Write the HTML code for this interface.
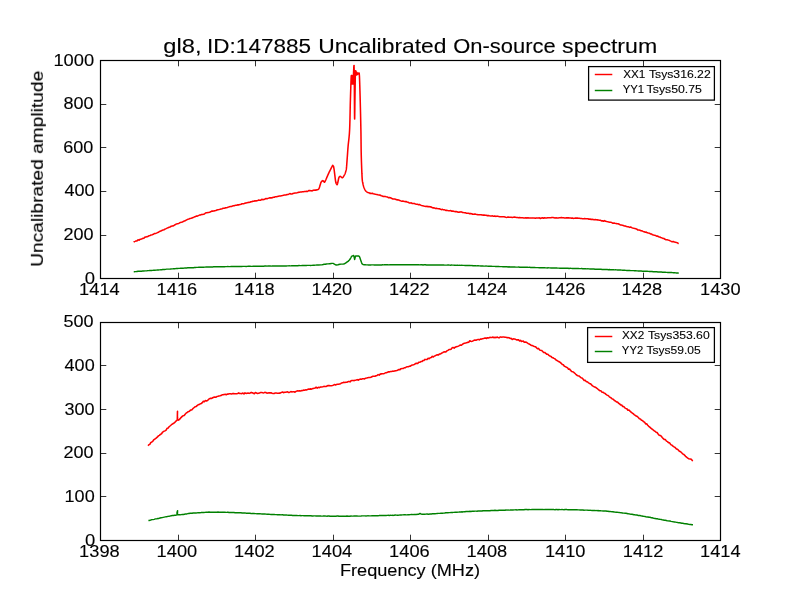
<!DOCTYPE html>
<html lang="en"><head><meta charset="utf-8">
<title>gl8, ID:147885 Uncalibrated On-source spectrum</title>
<style>
html,body{margin:0;padding:0;background:#fff;}
body{width:800px;height:600px;overflow:hidden;font-family:"Liberation Sans", sans-serif;}
svg{display:block;}
svg text{font-family:"Liberation Sans", sans-serif;fill:#000;stroke:#000;stroke-width:0.12px;stroke-linejoin:round;}
.sp{fill:none;stroke:#000;stroke-width:1.2;shape-rendering:auto;}
.tk line{stroke:#000;stroke-width:0.8;}
.cv{fill:none;stroke-width:1.45;stroke-linejoin:round;stroke-linecap:butt;}
.lg{fill:#fff;stroke:#000;stroke-width:1.25;}
</style></head><body>
<svg width="800" height="600" viewBox="0 0 800 600">
<rect x="0" y="0" width="800" height="600" fill="#ffffff"/>
<g class="cv">
<polyline stroke="#ff0000" stroke-width="1.55" points="133.75,242.29 134.35,241.65 135.09,241.37 135.97,240.92 136.96,240.87 138.03,239.87 139.17,240.15 140.34,239.23 141.54,238.94 142.73,238.36 143.89,238.21 145.00,237.13 146.00,237.04 147.01,236.63 148.04,236.50 149.07,235.69 150.12,235.45 151.17,234.90 152.23,234.65 153.29,234.33 154.35,233.60 155.40,233.57 156.45,233.10 157.50,232.59 158.55,232.22 159.63,231.47 160.71,231.10 161.81,230.47 162.90,230.11 163.98,229.77 165.06,229.07 166.11,228.65 167.14,228.14 168.13,227.67 169.09,227.28 170.00,227.00 171.22,226.26 172.28,226.04 173.23,225.87 174.14,225.30 175.08,224.71 176.12,224.14 177.32,223.66 178.75,223.50 179.57,222.87 180.45,222.38 181.39,222.15 182.37,222.08 183.40,221.31 184.46,220.96 185.54,220.46 186.64,219.90 187.75,219.31 188.85,219.01 189.95,218.60 191.03,218.32 192.08,217.95 193.10,217.58 194.07,217.09 195.00,216.86 196.17,216.14 197.30,216.11 198.39,215.60 199.44,215.11 200.47,214.92 201.48,214.50 202.48,214.41 203.47,214.18 204.46,214.00 205.46,213.06 206.47,212.75 207.50,212.61 208.54,212.42 209.58,212.24 210.62,211.84 211.67,211.12 212.71,211.13 213.75,211.04 214.79,210.65 215.83,210.46 216.88,210.00 217.92,209.72 218.96,209.51 220.00,209.27 221.04,208.96 222.08,208.68 223.12,208.27 224.17,208.19 225.21,207.89 226.25,207.81 227.29,207.57 228.33,207.13 229.38,206.78 230.42,206.48 231.46,206.42 232.50,206.11 233.55,205.79 234.61,205.62 235.68,205.26 236.76,205.25 237.83,204.81 238.91,204.87 239.97,204.49 241.02,204.29 242.05,203.76 243.06,203.76 244.05,203.65 245.00,203.13 246.08,203.00 247.08,202.83 248.03,202.35 248.94,202.43 249.84,202.31 250.76,201.79 251.71,201.79 252.72,201.26 253.81,201.25 255.00,200.71 255.86,201.02 256.77,200.71 257.72,200.43 258.71,200.10 259.72,200.27 260.76,200.19 261.81,199.29 262.88,199.64 263.94,199.50 265.00,199.06 266.05,198.57 267.08,198.74 268.09,198.35 269.06,198.08 270.00,197.78 271.13,197.87 272.23,197.68 273.30,197.20 274.35,197.19 275.39,196.67 276.41,196.80 277.42,196.45 278.43,196.20 279.43,196.00 280.45,195.97 281.47,195.74 282.50,195.50 283.54,195.22 284.58,195.01 285.62,194.91 286.67,194.64 287.71,194.53 288.75,194.16 289.79,193.58 290.83,194.02 291.88,194.04 292.92,193.54 293.96,193.26 295.00,193.08 296.05,192.90 297.11,192.75 298.18,192.36 299.26,192.30 300.33,192.04 301.41,192.09 302.47,191.82 303.52,191.80 304.55,191.52 305.56,191.57 306.55,191.28 307.50,191.49 308.65,190.59 309.82,190.64 311.00,190.75 312.16,190.88 313.28,190.23 314.34,190.14 315.31,189.96 316.18,190.12 316.92,189.73 317.50,189.70 318.00,189.50 318.60,189.10 318.89,188.69 319.14,188.17 319.40,187.50 319.54,187.08 319.69,186.59 319.84,186.06 319.99,185.52 320.15,184.99 320.30,184.50 320.48,183.93 320.65,183.37 320.83,182.83 321.02,182.33 321.25,181.90 321.73,181.30 322.28,180.84 322.75,180.60 323.60,181.20 323.98,181.87 324.40,182.25 324.66,182.08 324.96,181.61 325.50,180.50 325.67,180.14 325.86,179.72 326.06,179.25 326.29,178.74 326.52,178.20 326.77,177.62 327.02,177.03 327.28,176.43 327.54,175.83 327.80,175.24 328.05,174.66 328.29,174.11 328.53,173.58 328.75,173.10 329.02,172.52 329.30,171.94 329.58,171.37 329.85,170.82 330.12,170.29 330.38,169.77 330.63,169.28 330.87,168.81 331.10,168.37 331.31,167.97 331.50,167.60 331.93,166.75 332.25,166.10 332.51,165.66 332.75,165.40 333.50,166.25 333.58,166.58 333.66,166.94 333.74,167.34 333.82,167.79 333.91,168.30 333.99,168.86 334.09,169.50 334.19,170.21 334.30,171.00 334.35,171.40 334.41,171.84 334.47,172.31 334.54,172.82 334.60,173.36 334.67,173.91 334.74,174.49 334.81,175.07 334.88,175.67 334.95,176.26 335.02,176.86 335.09,177.44 335.16,178.01 335.23,178.57 335.30,179.10 335.36,179.60 335.43,180.08 335.49,180.51 335.55,180.90 335.60,181.25 335.79,182.28 335.96,182.90 336.11,183.26 336.25,183.52 336.40,183.80 337.10,184.75 337.27,184.46 337.43,183.96 337.61,183.29 337.80,182.50 337.91,182.03 338.03,181.48 338.15,180.87 338.28,180.24 338.40,179.62 338.53,179.03 338.64,178.52 338.75,178.10 339.08,177.21 339.40,176.80 340.25,176.25 340.87,176.71 341.50,177.30 342.01,177.68 342.50,177.75 343.02,177.21 343.60,176.30 343.87,175.87 344.16,175.39 344.45,174.87 344.74,174.32 345.00,173.75 345.20,173.25 345.38,172.71 345.56,172.15 345.72,171.59 345.87,171.04 346.00,170.50 346.11,170.07 346.19,169.76 346.26,169.45 346.33,169.05 346.41,168.43 346.50,167.50 346.53,167.16 346.56,166.79 346.60,166.40 346.63,165.97 346.67,165.52 346.71,165.05 346.74,164.56 346.78,164.06 346.82,163.54 346.86,163.00 346.90,162.46 346.94,161.91 346.98,161.36 347.02,160.80 347.06,160.24 347.10,159.68 347.14,159.13 347.18,158.58 347.22,158.04 347.26,157.51 347.30,157.00 347.34,156.50 347.37,156.01 347.41,155.53 347.44,155.05 347.48,154.58 347.51,154.11 347.54,153.64 347.57,153.17 347.61,152.70 347.64,152.22 347.67,151.74 347.71,151.26 347.74,150.76 347.78,150.25 347.82,149.73 347.86,149.20 347.90,148.64 347.95,148.08 348.00,147.49 348.05,146.88 348.10,146.25 348.14,145.83 348.18,145.41 348.22,144.99 348.26,144.58 348.30,144.16 348.35,143.74 348.39,143.32 348.44,142.90 348.49,142.47 348.54,142.04 348.59,141.60 348.64,141.16 348.69,140.72 348.75,140.26 348.80,139.80 348.85,139.33 348.90,138.85 348.95,138.36 349.01,137.86 349.06,137.34 349.11,136.82 349.16,136.28 349.21,135.73 349.26,135.16 349.31,134.58 349.35,133.98 349.40,133.36 349.44,132.73 349.48,132.07 349.52,131.40 349.56,130.71 349.60,130.00 349.62,129.61 349.64,129.21 349.66,128.80 349.67,128.39 349.69,127.96 349.71,127.53 349.72,127.09 349.74,126.64 349.76,126.19 349.77,125.73 349.79,125.26 349.80,124.78 349.82,124.30 349.83,123.82 349.85,123.33 349.86,122.83 349.88,122.33 349.89,121.82 349.90,121.31 349.92,120.80 349.93,120.28 349.94,119.76 349.96,119.23 349.97,118.70 349.98,118.17 349.99,117.64 350.00,117.10 350.02,116.56 350.03,116.02 350.04,115.48 350.05,114.94 350.06,114.40 350.08,113.86 350.09,113.31 350.10,112.77 350.11,112.23 350.12,111.69 350.13,111.14 350.14,110.60 350.16,110.06 350.17,109.53 350.18,108.99 350.19,108.46 350.20,107.93 350.21,107.40 350.22,106.88 350.24,106.35 350.25,105.84 350.26,105.32 350.27,104.81 350.28,104.31 350.30,103.81 350.31,103.31 350.32,102.82 350.33,102.33 350.35,101.85 350.36,101.38 350.37,100.91 350.39,100.45 350.40,100.00 350.42,99.43 350.43,98.86 350.45,98.28 350.47,97.69 350.49,97.10 350.51,96.50 350.53,95.90 350.54,95.29 350.56,94.69 350.58,94.08 350.60,93.46 350.62,92.85 350.64,92.24 350.66,91.63 350.68,91.02 350.70,90.41 350.72,89.80 350.74,89.20 350.76,88.60 350.78,88.00 350.80,87.42 350.81,86.83 350.83,86.26 350.85,85.69 350.87,85.13 350.89,84.57 350.91,84.03 350.93,83.50 350.95,82.98 350.97,82.47 350.98,81.97 351.00,81.48 351.02,81.01 351.04,80.55 351.05,80.11 351.07,79.68 351.09,79.27 351.10,78.87 351.12,78.50 351.14,78.14 351.15,77.80 351.17,77.48 351.18,77.18 351.20,76.90 351.21,76.64 351.22,76.40 351.24,76.19 351.25,76.00 351.29,75.58 351.33,75.50 351.36,75.71 351.39,76.16 351.41,76.81 351.44,77.59 351.46,78.47 351.48,79.39 351.50,80.30 351.52,81.15 351.54,81.90 351.56,82.49 351.58,82.87 351.60,83.00 351.62,82.89 351.64,82.60 351.66,82.17 351.68,81.62 351.70,80.98 351.72,80.28 351.74,79.53 351.76,78.78 351.78,78.04 351.79,77.35 351.81,76.73 351.83,76.21 351.86,75.81 351.88,75.57 351.90,75.50 351.92,75.61 351.94,75.87 351.96,76.25 351.99,76.75 352.01,77.33 352.03,77.98 352.06,78.68 352.08,79.41 352.11,80.15 352.13,80.88 352.15,81.57 352.18,82.22 352.20,82.80 352.23,83.28 352.25,83.66 352.28,83.90 352.30,84.00 352.32,83.92 352.35,83.68 352.38,83.29 352.40,82.79 352.43,82.18 352.45,81.51 352.48,80.78 352.50,80.03 352.53,79.28 352.55,78.55 352.58,77.87 352.60,77.26 352.62,76.75 352.65,76.35 352.68,76.09 352.70,76.00 352.72,76.09 352.75,76.36 352.77,76.77 352.80,77.30 352.82,77.92 352.85,78.62 352.88,79.36 352.90,80.12 352.93,80.88 352.95,81.62 352.97,82.29 353.00,82.89 353.02,83.39 353.05,83.75 353.07,83.97 353.10,84.00 353.12,83.90 353.14,83.72 353.16,83.46 353.18,83.13 353.20,82.73 353.22,82.27 353.24,81.77 353.26,81.22 353.27,80.64 353.29,80.02 353.31,79.39 353.33,78.75 353.35,78.10 353.37,77.45 353.39,76.81 353.41,76.19 353.43,75.59 353.46,75.02 353.48,74.49 353.50,74.00 353.53,73.39 353.56,72.72 353.59,72.00 353.62,71.25 353.66,70.49 353.69,69.73 353.72,68.99 353.76,68.28 353.79,67.61 353.82,67.01 353.86,66.49 353.89,66.06 353.92,65.74 353.95,65.55 353.97,65.50 354.00,65.60 354.01,65.72 354.03,65.87 354.04,66.04 354.05,66.25 354.07,66.48 354.08,66.74 354.09,67.03 354.10,67.34 354.11,67.69 354.12,68.06 354.13,68.47 354.14,68.90 354.15,69.36 354.16,69.85 354.17,70.38 354.18,70.93 354.19,71.51 354.20,72.13 354.21,72.77 354.22,73.45 354.23,74.15 354.24,74.89 354.25,75.66 354.26,76.47 354.27,77.30 354.28,78.17 354.29,79.07 354.30,80.00 354.30,80.35 354.31,80.73 354.31,81.12 354.32,81.52 354.32,81.95 354.32,82.39 354.33,82.84 354.33,83.31 354.33,83.80 354.34,84.29 354.34,84.80 354.35,85.33 354.35,85.86 354.35,86.41 354.36,86.97 354.36,87.53 354.36,88.11 354.37,88.70 354.37,89.29 354.38,89.89 354.38,90.50 354.38,91.12 354.39,91.74 354.39,92.37 354.39,93.00 354.40,93.64 354.40,94.28 354.40,94.93 354.41,95.58 354.41,96.23 354.42,96.88 354.42,97.53 354.42,98.18 354.43,98.84 354.43,99.49 354.43,100.14 354.44,100.79 354.44,101.44 354.45,102.08 354.45,102.72 354.45,103.36 354.46,103.99 354.46,104.62 354.46,105.24 354.47,105.85 354.47,106.46 354.48,107.06 354.48,107.65 354.48,108.24 354.49,108.81 354.49,109.38 354.50,109.93 354.50,110.47 354.50,111.00 354.51,111.52 354.51,112.03 354.51,112.52 354.52,113.01 354.52,113.47 354.53,113.92 354.53,114.36 354.54,114.78 354.54,115.18 354.54,115.56 354.55,115.93 354.55,116.28 354.56,116.61 354.56,116.92 354.56,117.21 354.57,117.48 354.57,117.73 354.58,117.96 354.58,118.16 354.59,118.35 354.59,118.51 354.60,118.64 354.60,118.75 354.61,118.88 354.62,118.96 354.62,118.98 354.63,118.95 354.64,118.87 354.65,118.74 354.65,118.57 354.66,118.35 354.67,118.09 354.68,117.79 354.69,117.45 354.70,117.07 354.70,116.66 354.71,116.21 354.72,115.73 354.73,115.23 354.74,114.69 354.75,114.13 354.75,113.55 354.76,112.94 354.77,112.31 354.78,111.67 354.79,111.01 354.80,110.33 354.81,109.64 354.82,108.94 354.82,108.23 354.83,107.52 354.84,106.80 354.85,106.07 354.86,105.34 354.87,104.62 354.88,103.89 354.89,103.17 354.90,102.46 354.90,101.75 354.91,101.05 354.92,100.36 354.93,99.69 354.94,99.03 354.95,98.39 354.96,97.77 354.97,97.17 354.97,96.59 354.98,96.03 354.99,95.50 355.00,95.00 355.01,94.48 355.02,93.94 355.03,93.40 355.04,92.86 355.04,92.31 355.05,91.75 355.06,91.19 355.07,90.62 355.08,90.05 355.09,89.48 355.10,88.90 355.11,88.33 355.12,87.75 355.12,87.17 355.13,86.59 355.14,86.02 355.15,85.45 355.16,84.87 355.17,84.31 355.18,83.74 355.18,83.18 355.19,82.62 355.20,82.08 355.21,81.53 355.22,81.00 355.23,80.47 355.24,79.95 355.25,79.44 355.26,78.93 355.27,78.44 355.27,77.96 355.28,77.49 355.29,77.04 355.30,76.59 355.31,76.16 355.32,75.74 355.33,75.34 355.34,74.96 355.35,74.59 355.36,74.23 355.37,73.90 355.38,73.58 355.39,73.28 355.40,73.00 355.56,70.71 355.73,70.68 355.90,71.25 355.97,71.55 356.04,72.10 356.11,72.80 356.19,73.54 356.26,74.22 356.33,74.74 356.40,75.00 356.50,74.83 356.60,74.23 356.69,73.48 356.79,72.81 356.90,72.50 357.04,72.77 357.19,73.44 357.35,74.14 357.50,74.50 357.70,74.18 357.90,73.46 358.10,73.00 358.75,73.75 358.96,73.42 359.17,73.19 359.40,75.50 359.41,75.78 359.43,76.07 359.45,76.38 359.46,76.70 359.48,77.04 359.49,77.39 359.51,77.76 359.52,78.14 359.54,78.53 359.56,78.94 359.57,79.36 359.59,79.79 359.60,80.23 359.62,80.68 359.64,81.14 359.65,81.62 359.67,82.10 359.69,82.59 359.70,83.09 359.72,83.60 359.74,84.12 359.75,84.64 359.77,85.18 359.79,85.71 359.81,86.26 359.82,86.81 359.84,87.36 359.86,87.92 359.87,88.49 359.89,89.05 359.91,89.62 359.92,90.20 359.94,90.78 359.96,91.36 359.97,91.94 359.99,92.52 360.01,93.10 360.02,93.68 360.04,94.27 360.06,94.85 360.07,95.43 360.09,96.01 360.11,96.59 360.12,97.17 360.14,97.74 360.15,98.31 360.17,98.88 360.18,99.44 360.20,100.00 360.21,100.46 360.23,100.92 360.24,101.38 360.25,101.85 360.26,102.32 360.28,102.80 360.29,103.28 360.30,103.76 360.31,104.25 360.33,104.74 360.34,105.23 360.35,105.73 360.36,106.23 360.38,106.73 360.39,107.23 360.40,107.74 360.42,108.24 360.43,108.75 360.44,109.26 360.45,109.78 360.47,110.29 360.48,110.81 360.49,111.33 360.50,111.84 360.52,112.36 360.53,112.88 360.54,113.40 360.55,113.93 360.57,114.45 360.58,114.97 360.59,115.49 360.60,116.01 360.61,116.53 360.63,117.06 360.64,117.58 360.65,118.10 360.66,118.62 360.67,119.13 360.68,119.65 360.70,120.17 360.71,120.68 360.72,121.19 360.73,121.71 360.74,122.22 360.75,122.72 360.76,123.23 360.77,123.73 360.78,124.23 360.79,124.73 360.80,125.23 360.81,125.72 360.82,126.21 360.83,126.69 360.84,127.18 360.85,127.66 360.86,128.13 360.87,128.61 360.88,129.07 360.89,129.54 360.90,130.00 360.91,130.55 360.92,131.09 360.93,131.64 360.94,132.18 360.95,132.71 360.96,133.25 360.96,133.78 360.97,134.31 360.98,134.84 360.98,135.36 360.99,135.88 361.00,136.40 361.00,136.92 361.01,137.43 361.01,137.95 361.02,138.46 361.03,138.97 361.03,139.47 361.04,139.98 361.04,140.48 361.05,140.98 361.05,141.48 361.06,141.98 361.06,142.47 361.07,142.97 361.07,143.46 361.08,143.95 361.08,144.44 361.09,144.93 361.09,145.42 361.10,145.91 361.10,146.39 361.11,146.88 361.11,147.36 361.12,147.84 361.13,148.32 361.13,148.80 361.14,149.28 361.15,149.76 361.15,150.24 361.16,150.72 361.17,151.19 361.18,151.67 361.19,152.15 361.20,152.62 361.21,153.10 361.22,153.57 361.23,154.05 361.24,154.52 361.25,155.00 361.26,155.53 361.28,156.07 361.29,156.61 361.31,157.15 361.32,157.70 361.34,158.25 361.36,158.81 361.37,159.36 361.39,159.92 361.41,160.48 361.42,161.05 361.44,161.61 361.46,162.17 361.48,162.73 361.50,163.30 361.52,163.86 361.54,164.42 361.56,164.97 361.58,165.53 361.60,166.08 361.62,166.62 361.64,167.17 361.66,167.71 361.68,168.24 361.70,168.77 361.72,169.29 361.74,169.81 361.76,170.32 361.78,170.82 361.80,171.31 361.82,171.80 361.84,172.28 361.86,172.75 361.88,173.21 361.90,173.66 361.93,174.10 361.95,174.52 361.97,174.94 361.99,175.35 362.01,175.74 362.02,176.12 362.04,176.48 362.06,176.84 362.08,177.18 362.10,177.50 362.17,178.59 362.24,179.48 362.30,180.22 362.37,180.82 362.43,181.30 362.50,181.69 362.57,182.02 362.63,182.30 362.70,182.57 362.76,182.84 362.83,183.14 362.90,183.50 363.03,184.22 363.16,184.84 363.30,185.39 363.44,185.90 363.58,186.39 363.75,186.90 363.97,187.53 364.22,188.15 364.48,188.75 364.74,189.30 365.00,189.80 365.40,190.48 365.80,191.03 366.25,191.50 366.79,191.90 367.38,192.22 368.00,192.50 368.53,192.69 369.11,192.86 369.63,193.00 370.00,193.42 370.60,193.31 371.36,193.41 372.26,193.25 373.26,193.75 374.35,193.98 375.50,194.27 376.69,194.44 377.88,194.81 379.05,195.00 380.19,195.11 381.25,195.76 382.27,196.01 383.28,196.42 384.28,196.39 385.29,196.57 386.29,196.82 387.30,196.92 388.32,197.65 389.34,197.56 390.38,197.83 391.43,198.28 392.50,198.87 393.50,198.90 394.51,198.94 395.54,199.26 396.57,199.77 397.62,199.89 398.67,200.05 399.73,200.42 400.79,200.86 401.85,201.34 402.90,201.02 403.95,201.39 405.00,201.61 406.04,201.56 407.08,202.07 408.12,202.29 409.17,202.91 410.21,202.91 411.25,202.87 412.29,203.51 413.33,203.55 414.38,203.53 415.42,203.95 416.46,204.17 417.50,204.34 418.54,204.72 419.58,204.53 420.62,205.09 421.67,205.53 422.71,205.71 423.75,205.97 424.79,206.17 425.83,206.44 426.88,206.18 427.92,206.74 428.96,206.46 430.00,206.89 431.04,206.87 432.08,207.61 433.12,207.88 434.17,207.82 435.21,208.39 436.25,208.16 437.29,208.52 438.33,208.73 439.38,208.72 440.42,209.19 441.46,209.66 442.50,209.32 443.54,209.85 444.58,209.84 445.62,210.36 446.67,210.30 447.71,210.50 448.75,210.66 449.79,210.75 450.83,210.62 451.88,211.28 452.92,210.94 453.96,211.39 455.00,211.61 456.04,211.50 457.08,211.84 458.12,212.17 459.17,212.11 460.21,212.10 461.25,211.88 462.29,212.38 463.33,212.59 464.38,212.74 465.42,212.80 466.46,213.18 467.50,213.15 468.54,213.36 469.58,213.64 470.62,213.49 471.67,213.72 472.71,214.29 473.75,214.19 474.79,213.92 475.83,214.26 476.88,214.50 477.92,214.74 478.96,214.66 480.00,214.65 481.04,214.73 482.08,215.09 483.12,215.14 484.17,215.10 485.21,215.27 486.25,215.33 487.29,215.64 488.33,215.49 489.38,215.80 490.42,215.96 491.46,215.99 492.50,215.85 493.54,216.34 494.58,216.06 495.62,216.36 496.67,216.23 497.71,216.15 498.75,216.59 499.79,216.68 500.83,216.70 501.88,216.84 502.92,216.75 503.96,216.80 505.00,216.97 506.04,217.40 507.08,217.26 508.12,217.07 509.17,217.30 510.21,217.16 511.25,217.20 512.29,217.47 513.33,217.26 514.38,217.09 515.42,217.26 516.46,217.48 517.50,217.52 518.54,217.77 519.58,217.46 520.62,217.77 521.67,217.76 522.71,217.71 523.75,217.93 524.79,217.92 525.83,217.72 526.88,218.10 527.92,217.73 528.96,217.99 530.00,218.00 531.04,218.09 532.08,217.90 533.12,218.03 534.17,218.02 535.21,218.23 536.25,217.90 537.29,218.06 538.33,217.99 539.38,217.80 540.42,218.50 541.46,218.00 542.50,217.73 543.54,218.24 544.58,217.77 545.62,218.01 546.67,218.07 547.71,217.77 548.75,217.78 549.79,217.73 550.83,217.78 551.88,217.49 552.92,217.54 553.96,217.73 555.00,217.94 556.05,217.87 557.11,218.07 558.18,217.90 559.26,217.71 560.33,217.80 561.41,217.48 562.47,217.70 563.52,217.72 564.55,217.98 565.56,218.07 566.55,217.88 567.50,217.89 568.59,217.74 569.62,218.01 570.61,218.09 571.56,218.14 572.50,217.92 573.44,218.44 574.39,218.31 575.38,218.11 576.41,218.06 577.50,218.14 578.45,218.27 579.44,218.28 580.45,218.42 581.48,218.53 582.53,218.69 583.59,218.71 584.67,218.55 585.74,218.71 586.82,218.65 587.89,218.70 588.95,219.24 590.00,218.92 591.04,219.47 592.08,219.17 593.12,219.40 594.17,219.68 595.21,219.63 596.25,219.84 597.29,219.88 598.33,219.99 599.38,220.21 600.42,220.29 601.46,220.87 602.50,220.72 603.54,221.24 604.58,220.63 605.62,221.31 606.67,221.60 607.71,221.65 608.75,222.10 609.79,222.23 610.83,222.28 611.88,222.63 612.92,223.29 613.96,223.06 615.00,223.30 616.04,223.41 617.08,223.77 618.12,223.77 619.17,224.22 620.21,224.97 621.25,224.99 622.29,225.19 623.33,225.55 624.38,225.97 625.42,226.03 626.46,226.58 627.50,226.69 628.54,226.82 629.58,227.40 630.62,226.97 631.67,227.59 632.71,228.05 633.75,228.15 634.79,228.60 635.83,228.83 636.88,229.15 637.92,230.08 638.96,230.03 640.00,230.24 641.04,230.82 642.08,230.88 643.12,231.43 644.17,231.68 645.21,232.27 646.25,232.07 647.29,232.82 648.33,233.07 649.38,233.20 650.42,233.96 651.46,233.98 652.50,234.79 653.54,234.96 654.57,235.36 655.60,235.62 656.62,236.14 657.65,236.02 658.67,236.75 659.70,237.00 660.74,237.54 661.79,237.86 662.84,238.36 663.91,238.47 665.00,239.33 666.05,239.78 667.18,239.70 668.37,240.13 669.59,240.58 670.82,241.16 672.05,241.68 673.25,241.51 674.41,241.99 675.49,242.26 676.49,242.57 677.38,242.76 678.14,243.37 678.75,243.29"/>
<polyline stroke="#008000" points="133.75,271.75 134.35,271.73 135.09,271.60 135.97,271.62 136.96,271.48 138.03,271.34 139.17,271.31 140.34,271.28 141.54,271.18 142.73,271.01 143.89,271.01 145.00,270.90 145.97,270.85 146.91,270.78 147.83,270.64 148.75,270.65 149.68,270.53 150.62,270.57 151.61,270.46 152.64,270.36 153.73,270.23 154.90,270.19 156.15,270.11 157.50,269.94 158.31,270.05 159.15,269.89 160.01,269.89 160.89,269.68 161.79,269.74 162.72,269.52 163.66,269.48 164.62,269.46 165.60,269.36 166.60,269.15 167.62,269.14 168.66,269.15 169.71,269.13 170.79,268.99 171.88,268.85 172.98,268.82 174.11,268.65 175.24,268.65 176.40,268.48 177.57,268.47 178.75,268.39 179.64,268.39 180.53,268.28 181.41,268.30 182.30,268.17 183.19,268.17 184.08,268.11 184.97,267.93 185.87,267.97 186.78,267.91 187.70,267.82 188.62,267.81 189.56,267.68 190.52,267.73 191.48,267.67 192.47,267.61 193.47,267.67 194.50,267.51 195.54,267.45 196.61,267.36 197.70,267.36 198.82,267.25 199.96,267.32 201.14,267.18 202.34,267.17 203.58,267.22 204.85,267.14 206.16,267.05 207.50,267.07 208.32,266.97 209.16,266.99 210.02,266.93 210.90,266.87 211.79,266.91 212.71,266.92 213.63,266.83 214.58,266.78 215.53,266.79 216.50,266.67 217.49,266.74 218.48,266.70 219.49,266.84 220.51,266.69 221.53,266.63 222.57,266.73 223.61,266.66 224.66,266.66 225.72,266.65 226.79,266.63 227.86,266.59 228.93,266.64 230.01,266.60 231.09,266.54 232.17,266.54 233.25,266.48 234.34,266.53 235.42,266.54 236.51,266.52 237.59,266.51 238.67,266.46 239.75,266.53 240.82,266.42 241.89,266.42 242.95,266.39 244.00,266.40 245.05,266.37 246.10,266.47 247.13,266.38 248.15,266.26 249.17,266.31 250.17,266.25 251.16,266.35 252.14,266.36 253.11,266.25 254.06,266.29 255.00,266.24 256.09,266.26 257.19,266.31 258.28,266.19 259.38,266.13 260.47,266.21 261.56,266.19 262.65,266.18 263.74,266.19 264.83,266.09 265.91,266.01 266.99,266.15 268.06,266.07 269.13,266.02 270.20,266.01 271.26,266.11 272.32,266.05 273.37,266.05 274.42,266.06 275.45,265.98 276.48,265.94 277.51,265.95 278.52,265.92 279.53,265.95 280.53,265.91 281.52,265.95 282.50,265.91 283.47,265.92 284.43,265.94 285.38,265.97 286.32,265.96 287.25,265.88 288.16,265.87 289.06,265.82 289.95,265.89 290.83,265.90 291.69,265.78 292.54,265.83 293.38,265.76 294.20,265.76 295.00,265.76 296.37,265.70 297.72,265.74 299.04,265.59 300.33,265.60 301.59,265.59 302.82,265.52 304.02,265.55 305.19,265.43 306.33,265.47 307.44,265.36 308.52,265.39 309.57,265.39 310.58,265.44 311.55,265.35 312.50,265.34 313.41,265.23 314.28,265.30 315.12,265.15 315.92,265.11 316.68,265.03 317.41,265.07 318.10,265.08 318.75,264.97 320.99,264.85 322.21,264.73 322.82,264.62 323.28,264.49 324.00,264.33 325.23,264.30 326.43,263.96 327.60,263.85 328.75,263.77 329.93,263.66 331.12,263.47 332.21,263.38 333.10,263.40 334.80,264.29 336.25,265.04 338.00,264.68 338.83,264.44 340.00,264.23 340.99,264.15 342.19,264.11 343.41,264.01 344.40,263.73 345.54,263.18 346.50,262.43 348.01,261.37 349.40,259.98 350.50,258.52 351.00,257.54 351.50,256.47 352.60,255.89 353.75,255.57 354.20,257.45 354.60,259.44 355.10,257.55 355.60,255.91 357.00,255.95 358.75,255.99 359.50,256.81 360.00,258.11 360.47,259.41 361.00,260.98 361.44,262.33 361.90,263.60 363.00,264.51 364.40,264.75 365.18,264.74 366.13,264.89 367.24,264.85 368.53,264.97 370.00,265.00 370.78,264.99 371.56,264.89 372.36,264.87 373.20,264.89 374.10,264.92 375.07,264.88 376.13,264.98 377.29,264.95 378.58,264.91 380.00,264.88 380.79,264.93 381.64,264.96 382.55,264.78 383.52,264.88 384.53,264.84 385.58,264.81 386.66,264.82 387.76,264.83 388.88,264.90 390.00,264.80 391.12,264.76 392.24,264.71 393.34,264.80 394.42,264.71 395.47,264.73 396.48,264.76 397.45,264.72 398.36,264.69 399.21,264.70 400.00,264.74 401.30,264.69 402.28,264.70 403.03,264.71 403.64,264.68 404.22,264.71 404.86,264.69 405.66,264.77 406.72,264.75 408.13,264.65 410.00,264.74 410.69,264.81 411.43,264.75 412.21,264.74 413.04,264.82 413.90,264.72 414.81,264.78 415.75,264.82 416.72,264.84 417.72,264.75 418.75,264.74 419.80,264.89 420.87,264.78 421.96,264.82 423.07,264.95 424.18,264.82 425.31,264.74 426.45,264.99 427.59,264.91 428.73,264.89 429.87,265.02 431.01,264.88 432.14,264.97 433.26,264.91 434.38,264.90 435.47,264.96 436.55,264.98 437.61,265.01 438.64,265.02 439.65,264.94 440.63,264.97 441.58,265.09 442.50,265.03 443.63,265.02 444.72,265.10 445.77,265.11 446.79,265.12 447.78,265.04 448.75,265.07 449.69,265.14 450.62,265.18 451.53,265.07 452.44,265.12 453.34,265.15 454.24,265.23 455.14,265.14 456.04,265.35 456.96,265.24 457.89,265.29 458.84,265.39 459.80,265.33 460.80,265.36 461.82,265.34 462.88,265.40 463.97,265.35 465.10,265.43 466.28,265.47 467.50,265.45 468.35,265.57 469.22,265.57 470.11,265.48 471.02,265.64 471.94,265.59 472.87,265.69 473.82,265.65 474.78,265.71 475.75,265.78 476.74,265.89 477.73,265.75 478.74,265.84 479.75,265.88 480.78,265.98 481.81,265.95 482.85,266.02 483.89,266.11 484.94,266.11 486.00,266.09 487.06,266.13 488.12,266.17 489.19,266.23 490.25,266.22 491.32,266.30 492.39,266.37 493.46,266.35 494.53,266.39 495.60,266.46 496.66,266.52 497.72,266.45 498.78,266.50 499.83,266.65 500.88,266.62 501.92,266.60 502.96,266.69 503.98,266.80 505.00,266.72 506.01,266.73 507.01,266.80 508.01,266.92 509.00,266.84 509.99,266.92 510.97,266.98 511.95,266.98 512.92,266.96 513.90,267.04 514.87,267.04 515.84,267.10 516.81,267.11 517.78,267.12 518.74,267.05 519.71,267.20 520.69,267.19 521.66,267.11 522.64,267.24 523.62,267.28 524.60,267.29 525.59,267.20 526.58,267.31 527.58,267.32 528.59,267.38 529.60,267.31 530.62,267.46 531.65,267.50 532.68,267.53 533.73,267.53 534.78,267.55 535.85,267.63 536.93,267.63 538.02,267.62 539.12,267.68 540.23,267.73 541.36,267.78 542.50,267.77 543.41,267.73 544.32,267.77 545.25,267.83 546.18,267.85 547.12,267.91 548.06,267.79 549.01,267.87 549.97,267.87 550.93,268.00 551.90,268.01 552.88,268.01 553.86,268.05 554.85,268.00 555.84,268.08 556.83,268.08 557.83,268.10 558.84,268.11 559.85,268.18 560.86,268.21 561.88,268.11 562.90,268.18 563.93,268.23 564.95,268.27 565.98,268.19 567.02,268.24 568.05,268.30 569.09,268.42 570.13,268.32 571.17,268.36 572.22,268.41 573.26,268.43 574.31,268.47 575.36,268.48 576.40,268.50 577.45,268.55 578.50,268.58 579.55,268.61 580.60,268.64 581.65,268.59 582.70,268.69 583.74,268.71 584.79,268.78 585.84,268.80 586.88,268.88 587.92,268.79 588.96,268.86 590.00,268.91 590.98,268.90 591.96,268.95 592.95,268.98 593.95,269.01 594.95,269.19 595.96,269.11 596.97,269.22 597.98,269.14 599.00,269.24 600.02,269.23 601.05,269.32 602.07,269.42 603.10,269.48 604.14,269.46 605.17,269.49 606.21,269.51 607.24,269.57 608.28,269.66 609.32,269.55 610.36,269.66 611.40,269.67 612.44,269.82 613.48,269.75 614.51,269.90 615.55,269.84 616.58,269.89 617.61,270.06 618.64,270.08 619.67,270.03 620.69,270.04 621.71,270.12 622.73,270.24 623.74,270.26 624.75,270.26 625.75,270.38 626.75,270.46 627.74,270.38 628.73,270.48 629.71,270.49 630.68,270.63 631.65,270.62 632.61,270.63 633.56,270.62 634.51,270.78 635.44,270.78 636.37,270.84 637.29,270.87 638.21,270.94 639.11,270.87 640.00,270.96 641.17,271.07 642.36,271.20 643.55,271.18 644.75,271.22 645.95,271.25 647.16,271.31 648.36,271.39 649.57,271.42 650.78,271.53 651.99,271.59 653.19,271.75 654.39,271.70 655.58,271.82 656.76,271.81 657.94,271.94 659.10,272.07 660.25,271.99 661.38,272.02 662.50,272.19 663.60,272.19 664.68,272.24 665.75,272.33 666.79,272.38 667.80,272.48 668.80,272.49 669.76,272.49 670.70,272.52 671.61,272.54 672.49,272.62 673.33,272.77 674.14,272.69 674.92,272.80 675.66,272.90 676.36,272.91 677.02,272.99 677.64,272.98 678.22,273.05 678.75,272.97"/>
<polyline stroke="#ff0000" stroke-width="1.55" points="148.25,445.88 148.66,444.88 150.00,444.13 150.73,442.66 151.58,442.03 152.55,441.64 153.63,439.99 154.83,439.09 156.12,438.23 157.50,436.90 158.39,435.88 159.37,435.33 160.42,434.38 161.53,433.72 162.67,432.05 163.83,431.34 164.98,430.90 166.11,430.14 167.20,428.20 168.22,427.97 169.16,426.67 170.00,425.99 171.46,424.74 172.74,423.80 173.85,423.30 174.79,422.43 175.59,421.57 176.25,420.89 177.20,420.20 177.27,419.32 177.32,418.37 177.36,416.49 177.38,415.15 177.41,413.67 177.43,412.45 177.46,411.67 177.50,411.31 177.52,411.95 177.49,412.37 177.46,414.10 177.43,414.98 177.44,416.42 177.50,417.96 177.65,419.10 177.90,419.68 178.57,420.11 179.44,419.37 180.70,417.92 182.50,416.15 183.27,415.65 184.13,415.45 185.07,414.37 186.08,413.13 187.15,412.49 188.26,411.68 189.39,411.34 190.54,410.10 191.69,409.97 192.83,408.68 193.93,407.75 195.00,406.87 196.04,406.62 197.08,405.60 198.12,404.79 199.17,404.58 200.21,403.80 201.25,403.56 202.29,402.60 203.33,401.21 204.38,401.76 205.42,400.43 206.46,400.95 207.50,400.55 208.54,399.40 209.58,398.72 210.62,398.22 211.67,398.47 212.71,397.75 213.75,397.24 214.79,396.98 215.83,397.33 216.88,396.48 217.92,396.29 218.96,396.00 220.00,395.81 221.04,395.57 222.08,394.82 223.12,394.78 224.17,394.44 225.21,394.30 226.25,394.72 227.29,394.10 228.33,394.12 229.38,393.83 230.42,393.76 231.46,394.08 232.50,393.62 233.54,393.52 234.58,393.74 235.62,393.68 236.67,393.72 237.71,393.49 238.75,392.88 239.79,393.57 240.83,393.50 241.88,393.63 242.92,393.05 243.96,394.04 245.00,392.88 246.04,393.44 247.08,393.20 248.12,393.02 249.17,393.38 250.21,393.03 251.25,392.39 252.29,392.72 253.33,393.19 254.38,393.71 255.42,392.58 256.46,393.01 257.50,393.44 258.54,393.17 259.58,392.88 260.62,392.57 261.67,392.47 262.71,392.78 263.75,392.91 264.79,392.35 265.83,392.52 266.88,393.12 267.92,392.90 268.96,392.79 270.00,392.88 271.04,392.73 272.08,393.23 273.12,393.41 274.17,393.51 275.21,393.07 276.25,393.04 277.29,393.21 278.33,393.24 279.38,393.11 280.42,392.98 281.46,392.37 282.50,392.02 283.54,392.70 284.58,392.34 285.62,392.29 286.67,391.97 287.71,391.77 288.75,392.51 289.79,392.15 290.83,391.60 291.88,391.94 292.92,391.82 293.96,391.77 295.00,392.17 296.07,391.36 297.17,390.84 298.30,391.08 299.44,390.71 300.59,390.90 301.72,390.62 302.82,390.48 303.89,390.04 304.90,390.16 305.85,389.73 306.72,389.89 307.50,389.51 308.86,389.01 309.68,389.30 310.32,388.75 311.14,389.20 312.50,388.63 313.28,388.51 314.15,388.25 315.10,388.05 316.11,387.19 317.18,388.11 318.28,387.33 319.41,387.68 320.56,387.03 321.70,387.00 322.83,386.79 323.93,386.37 325.00,386.45 326.04,386.47 327.08,386.02 328.12,385.59 329.17,385.62 330.21,385.69 331.25,385.78 332.29,385.50 333.33,385.15 334.38,384.57 335.42,384.94 336.46,384.47 337.50,384.18 338.54,384.30 339.58,383.97 340.62,383.69 341.67,382.93 342.71,382.83 343.75,382.24 344.79,382.54 345.83,382.23 346.88,382.24 347.92,381.78 348.96,381.37 350.00,381.88 351.04,380.73 352.08,380.44 353.12,380.47 354.17,380.63 355.21,380.19 356.25,379.99 357.29,379.62 358.33,380.22 359.38,379.41 360.42,379.09 361.46,379.17 362.50,378.76 363.54,378.71 364.58,378.95 365.62,378.18 366.67,378.06 367.71,377.72 368.75,377.52 369.79,377.57 370.83,377.22 371.88,376.70 372.92,376.26 373.96,376.23 375.00,376.25 376.04,375.72 377.08,375.40 378.12,374.61 379.17,375.16 380.21,374.12 381.25,373.88 382.29,373.85 383.33,373.68 384.38,373.38 385.42,372.85 386.46,372.69 387.50,372.32 388.54,371.68 389.58,371.88 390.62,371.49 391.67,371.56 392.71,371.14 393.75,371.21 394.79,370.87 395.83,370.67 396.88,370.49 397.92,370.05 398.96,369.51 400.00,369.66 401.04,368.65 402.08,368.60 403.12,368.53 404.17,367.85 405.21,367.80 406.25,366.99 407.29,366.71 408.33,366.67 409.38,366.35 410.42,366.12 411.46,365.36 412.50,365.09 413.54,364.80 414.58,364.35 415.62,363.41 416.67,363.22 417.71,363.40 418.75,362.17 419.79,362.31 420.83,361.57 421.88,361.57 422.92,360.61 423.96,360.43 425.00,359.39 426.04,359.57 427.08,359.50 428.12,358.32 429.17,358.72 430.21,357.74 431.25,357.53 432.29,356.30 433.33,357.05 434.38,356.04 435.42,355.72 436.46,355.06 437.50,354.70 438.54,354.89 439.58,353.92 440.62,353.87 441.67,353.06 442.71,352.72 443.75,351.97 444.79,351.76 445.83,351.92 446.88,350.85 447.92,350.33 448.96,349.56 450.00,349.55 451.04,349.21 452.08,347.85 453.12,347.51 454.17,348.12 455.21,347.19 456.25,346.68 457.29,346.39 458.33,346.14 459.38,345.65 460.42,344.95 461.46,345.25 462.50,344.25 463.54,343.61 464.58,343.34 465.62,343.10 466.67,342.66 467.71,342.37 468.75,342.17 469.79,340.76 470.83,341.18 471.88,341.39 472.92,340.97 473.96,340.31 475.00,340.06 476.05,340.34 477.12,339.68 478.20,339.37 479.28,339.87 480.36,339.00 481.44,339.12 482.50,338.73 483.56,338.59 484.59,338.13 485.59,338.02 486.56,338.51 487.50,337.66 488.70,337.93 489.84,337.37 490.94,337.56 492.01,337.54 493.05,336.99 494.06,337.77 495.05,337.33 496.03,337.71 497.00,337.02 498.04,337.52 499.00,337.88 499.91,337.18 500.81,336.87 501.74,337.18 502.72,337.09 503.79,337.05 505.00,337.21 505.89,337.21 506.85,337.67 507.87,337.62 508.93,337.69 510.02,338.43 511.12,338.38 512.24,339.49 513.35,338.89 514.45,339.01 515.51,339.33 516.53,339.86 517.50,339.79 518.58,339.89 519.58,340.99 520.53,340.34 521.44,341.38 522.34,341.20 523.26,341.09 524.21,342.21 525.22,342.00 526.31,342.18 527.50,343.02 528.36,343.78 529.27,344.04 530.22,344.57 531.21,345.36 532.22,345.43 533.26,346.05 534.31,346.45 535.38,346.68 536.44,347.67 537.50,348.81 538.55,348.41 539.58,349.94 540.59,350.20 541.56,350.42 542.50,351.27 543.63,352.46 544.73,352.42 545.80,353.49 546.85,354.25 547.89,354.29 548.91,355.41 549.92,356.04 550.93,356.39 551.93,357.41 552.95,357.77 553.97,358.38 555.00,358.88 556.04,360.07 557.08,360.53 558.12,361.21 559.17,361.76 560.21,362.42 561.25,363.33 562.29,364.52 563.33,364.79 564.38,366.21 565.42,366.64 566.46,367.31 567.50,367.64 568.54,369.33 569.58,369.06 570.62,370.40 571.67,371.51 572.71,371.70 573.75,372.31 574.79,373.27 575.83,374.30 576.88,375.19 577.92,375.71 578.96,375.95 580.00,376.80 581.04,377.79 582.08,378.07 583.12,379.09 584.17,380.55 585.21,380.27 586.25,381.65 587.29,381.72 588.33,382.60 589.38,383.38 590.42,383.65 591.46,384.77 592.50,385.89 593.54,386.41 594.58,387.09 595.62,387.33 596.67,388.21 597.71,388.99 598.75,389.81 599.79,390.69 600.83,390.67 601.88,392.17 602.92,392.26 603.96,392.97 605.00,393.39 606.04,394.44 607.08,395.11 608.12,395.53 609.17,396.54 610.21,397.40 611.25,397.97 612.29,399.07 613.33,399.26 614.38,400.57 615.42,400.98 616.46,401.88 617.50,401.95 618.54,403.26 619.58,403.92 620.62,404.93 621.67,405.01 622.71,406.48 623.75,406.46 624.79,407.89 625.83,408.39 626.88,408.72 627.92,410.34 628.96,410.08 630.00,411.15 631.04,412.04 632.08,412.92 633.12,413.63 634.17,414.61 635.21,415.32 636.25,416.01 637.29,416.55 638.33,417.55 639.38,418.76 640.42,418.98 641.46,420.20 642.50,420.39 643.54,421.63 644.58,422.20 645.62,423.91 646.67,423.84 647.71,425.17 648.75,426.32 649.79,427.15 650.83,428.07 651.88,429.02 652.92,429.71 653.96,430.68 655.00,431.28 656.04,432.16 657.08,432.52 658.12,433.98 659.17,435.19 660.21,435.48 661.25,436.24 662.29,437.50 663.33,438.69 664.38,439.59 665.42,439.64 666.46,441.09 667.50,441.60 668.56,442.73 669.64,442.83 670.74,444.64 671.85,445.11 672.96,446.15 674.06,446.88 675.15,447.45 676.20,448.73 677.23,449.21 678.21,449.90 679.13,451.02 680.00,451.47 681.35,452.37 682.57,453.86 683.67,454.32 684.69,455.34 685.65,456.35 686.58,457.13 687.50,457.86 688.82,458.80 690.11,458.98 691.29,459.26 692.28,460.42 693.00,460.67"/>
<polyline stroke="#008000" points="148.40,520.58 149.02,520.51 149.82,520.29 150.77,520.00 151.83,519.65 152.98,519.62 154.18,519.37 155.41,518.90 156.64,518.85 157.83,518.44 158.96,518.41 160.00,518.04 161.08,517.75 162.15,517.63 163.21,517.34 164.26,517.12 165.29,516.91 166.29,516.70 167.27,516.56 168.22,516.39 169.13,516.19 170.00,516.13 171.22,515.69 172.41,515.56 173.56,515.48 174.62,515.19 175.57,515.24 176.37,515.06 177.00,514.89 177.40,514.64 177.46,513.63 177.51,512.22 177.55,511.18 177.60,510.67 177.39,511.19 177.01,512.48 176.99,513.72 177.90,514.64 178.50,514.75 179.26,514.81 180.14,514.84 181.14,514.61 182.21,514.46 183.34,514.42 184.51,514.17 185.69,513.90 186.85,513.90 187.97,513.59 189.03,513.47 190.00,513.33 191.09,513.32 192.13,513.28 193.15,513.08 194.15,513.05 195.13,512.91 196.10,513.03 197.07,512.90 198.03,512.68 199.01,512.70 200.00,512.67 201.00,512.57 202.00,512.43 203.00,512.43 204.00,512.44 205.00,512.38 206.00,512.25 207.00,512.31 208.00,512.18 209.00,512.07 210.00,512.21 211.00,512.25 212.00,512.20 213.00,512.27 214.00,512.28 215.00,512.19 216.00,512.12 217.00,512.17 218.00,512.08 219.00,512.19 220.00,512.19 221.00,512.22 222.00,512.30 223.00,512.09 224.00,512.31 225.00,512.24 226.00,512.35 227.00,512.33 228.00,512.27 229.00,512.43 230.00,512.35 231.00,512.47 232.00,512.42 233.00,512.47 234.00,512.54 235.00,512.71 236.00,512.66 237.00,512.66 238.00,512.82 239.00,512.75 240.00,512.78 241.00,512.79 242.00,512.92 243.00,512.98 244.00,512.99 245.00,512.97 246.00,513.16 247.00,513.24 248.00,513.26 249.00,513.28 250.00,513.32 251.00,513.41 252.00,513.59 253.00,513.54 254.00,513.45 255.00,513.65 256.00,513.60 257.00,513.84 258.00,513.69 259.00,513.75 260.00,513.81 261.00,513.87 262.00,513.91 263.00,513.98 264.00,514.02 265.00,514.06 266.00,514.14 267.00,514.15 268.00,514.25 269.00,514.30 270.00,514.37 270.95,514.42 271.84,514.48 272.69,514.55 273.52,514.53 274.38,514.59 275.28,514.64 276.26,514.63 277.36,514.69 278.59,514.77 280.00,514.68 280.77,514.88 281.60,514.83 282.46,514.64 283.36,514.98 284.30,514.90 285.26,515.09 286.26,515.00 287.28,515.10 288.32,515.20 289.38,515.14 290.44,515.18 291.52,515.28 292.60,515.43 293.69,515.45 294.77,515.52 295.84,515.49 296.90,515.53 297.96,515.61 298.99,515.61 300.00,515.54 301.00,515.68 302.00,515.62 303.00,515.63 304.00,515.72 305.00,515.73 306.00,515.82 307.00,515.80 308.00,515.77 309.00,515.81 310.00,515.80 311.00,515.83 312.00,515.96 313.00,515.92 314.00,515.88 315.00,515.90 316.00,515.90 317.00,515.94 318.00,515.87 319.00,516.03 320.00,515.98 321.00,516.06 322.00,516.10 323.00,516.07 324.00,515.99 325.00,515.99 326.00,516.14 327.00,516.16 328.00,516.02 329.00,516.06 330.00,516.21 331.00,516.15 332.00,516.30 333.00,516.20 334.00,516.24 335.00,516.18 336.00,516.16 337.00,516.09 338.00,516.01 339.00,516.28 340.00,516.26 341.00,516.16 342.00,516.27 343.00,516.09 344.00,516.30 345.00,516.22 346.00,516.29 347.00,516.05 348.00,516.26 349.00,516.21 350.00,516.16 351.00,516.07 352.00,516.14 353.00,516.12 354.00,516.04 355.00,515.98 356.00,515.98 357.00,516.01 358.00,516.11 359.00,516.10 360.00,516.12 361.00,516.02 362.00,515.87 363.00,515.90 364.00,515.86 365.00,515.90 366.00,516.00 367.00,515.87 368.00,515.83 369.00,515.88 370.00,515.88 371.00,515.87 372.00,515.72 373.00,515.70 374.00,515.71 375.00,515.77 376.00,515.71 377.00,515.60 378.00,515.78 379.00,515.59 380.00,515.59 381.00,515.57 382.02,515.49 383.04,515.52 384.06,515.50 385.09,515.48 386.13,515.46 387.16,515.37 388.19,515.31 389.22,515.42 390.25,515.30 391.27,515.36 392.29,515.28 393.30,515.41 394.29,515.18 395.28,515.04 396.26,515.10 397.22,515.18 398.16,515.19 399.09,515.15 400.00,515.05 401.13,515.07 402.28,514.85 403.44,514.84 404.60,514.78 405.75,514.84 406.89,514.85 408.00,514.72 409.09,514.71 410.15,514.61 411.16,514.57 412.13,514.57 413.04,514.63 413.89,514.52 414.67,514.49 415.38,514.50 416.00,514.45 418.16,514.27 418.50,514.32 420.00,513.39 421.20,514.10 422.00,514.20 422.57,514.24 423.21,514.19 423.95,514.23 424.80,514.32 425.80,514.12 426.99,514.01 428.38,514.18 430.00,514.02 430.73,514.01 431.51,513.96 432.35,513.83 433.23,513.81 434.16,513.61 435.12,513.66 436.11,513.60 437.14,513.44 438.18,513.39 439.25,513.35 440.33,513.31 441.42,513.19 442.52,513.22 443.62,513.10 444.72,513.02 445.81,512.76 446.89,512.78 447.95,512.75 448.99,512.64 450.00,512.62 451.00,512.50 452.00,512.41 453.00,512.40 454.00,512.35 455.00,512.26 456.00,512.21 457.00,512.22 458.00,512.12 459.00,512.08 460.00,512.00 461.00,511.91 462.00,511.82 463.00,511.91 464.00,511.74 465.00,511.72 466.00,511.57 467.00,511.46 468.00,511.42 469.00,511.43 470.00,511.32 471.00,511.41 472.00,511.28 473.00,511.23 474.00,511.33 475.00,511.15 476.00,511.10 477.00,511.27 478.00,511.07 479.00,511.01 480.00,510.94 481.00,511.02 482.00,510.97 483.00,510.68 484.00,510.81 485.00,510.80 486.00,510.78 487.00,510.62 488.00,510.67 489.00,510.76 490.00,510.68 491.00,510.50 492.00,510.56 493.00,510.45 494.00,510.53 495.00,510.23 496.00,510.47 497.00,510.39 498.00,510.42 499.00,510.23 500.00,510.26 501.00,510.18 502.00,510.26 503.00,510.21 504.00,510.30 505.00,510.19 506.00,509.96 507.00,510.11 508.00,510.07 509.00,510.11 510.00,510.06 511.00,509.93 512.00,509.94 513.00,510.01 514.00,509.86 515.00,509.90 516.00,509.79 517.00,509.92 518.00,509.90 519.00,509.80 520.00,509.71 521.00,509.72 522.00,509.72 523.00,509.69 524.00,509.72 525.00,509.58 526.00,509.57 527.00,509.58 528.00,509.69 529.00,509.53 530.00,509.61 531.00,509.65 532.00,509.48 533.00,509.43 534.00,509.43 535.00,509.58 536.00,509.57 537.00,509.52 538.00,509.45 539.00,509.52 540.00,509.40 541.00,509.54 542.00,509.50 543.00,509.50 544.00,509.60 545.00,509.42 546.00,509.42 547.00,509.52 548.00,509.57 549.00,509.43 550.00,509.43 551.00,509.49 552.00,509.54 553.00,509.45 554.00,509.58 555.00,509.67 556.00,509.52 557.00,509.49 558.00,509.69 559.00,509.45 560.00,509.63 561.00,509.63 562.00,509.47 563.00,509.63 564.00,509.70 565.00,509.58 566.00,509.46 567.00,509.59 568.00,509.79 569.00,509.60 570.00,509.77 571.00,509.63 572.00,509.70 573.00,509.70 574.00,509.77 575.00,509.84 576.00,509.83 577.00,509.79 578.00,509.87 579.00,509.89 580.00,509.91 581.00,509.92 582.00,509.95 583.00,510.05 584.00,510.21 585.00,510.10 586.00,510.15 587.00,510.11 588.00,510.17 589.00,510.35 590.00,510.27 591.00,510.37 592.00,510.45 593.00,510.39 594.00,510.55 595.00,510.58 596.00,510.61 597.00,510.56 598.00,510.68 599.00,510.59 600.00,510.78 601.00,510.84 602.00,510.86 603.00,510.98 604.00,510.92 605.00,511.04 606.00,511.06 607.00,511.25 608.00,511.29 609.00,511.47 610.00,511.44 611.00,511.62 612.00,511.68 613.00,511.81 614.00,511.95 615.00,512.11 616.00,512.21 617.00,512.14 618.00,512.39 619.00,512.40 620.00,512.62 621.00,512.67 622.00,512.92 623.00,513.05 624.00,513.13 625.00,513.20 626.00,513.29 627.00,513.45 628.00,513.67 629.00,513.88 630.00,514.06 631.00,514.21 632.00,514.23 633.00,514.45 634.00,514.68 635.00,514.83 636.00,514.95 637.00,515.04 638.00,515.43 639.00,515.48 640.00,515.55 641.00,515.87 642.00,516.04 643.00,516.20 644.00,516.38 645.00,516.49 646.00,516.85 647.00,516.93 648.00,516.99 649.00,517.29 650.00,517.30 651.00,517.68 652.02,517.80 653.04,518.06 654.06,518.29 655.09,518.42 656.13,518.79 657.16,518.83 658.19,519.05 659.22,519.21 660.25,519.38 661.27,519.54 662.29,519.86 663.30,520.03 664.29,520.27 665.28,520.30 666.26,520.47 667.22,520.69 668.16,520.88 669.09,521.03 670.00,521.07 671.13,521.38 672.25,521.60 673.38,521.81 674.49,521.94 675.60,522.14 676.69,522.40 677.76,522.58 678.81,522.67 679.84,522.83 680.83,522.99 681.80,523.20 682.73,523.30 683.61,523.44 684.46,523.66 685.25,523.64 686.00,523.73 687.53,524.03 688.86,524.35 690.00,524.43 690.96,524.42 691.77,524.69 692.45,524.74 693.00,524.82"/>
</g>
<g class="tk">
<line x1="178.5" y1="278.50" x2="178.5" y2="272.70"/>
<line x1="178.5" y1="60.50" x2="178.5" y2="66.30"/>
<line x1="255.5" y1="278.50" x2="255.5" y2="272.70"/>
<line x1="255.5" y1="60.50" x2="255.5" y2="66.30"/>
<line x1="333.5" y1="278.50" x2="333.5" y2="272.70"/>
<line x1="333.5" y1="60.50" x2="333.5" y2="66.30"/>
<line x1="410.5" y1="278.50" x2="410.5" y2="272.70"/>
<line x1="410.5" y1="60.50" x2="410.5" y2="66.30"/>
<line x1="488.5" y1="278.50" x2="488.5" y2="272.70"/>
<line x1="488.5" y1="60.50" x2="488.5" y2="66.30"/>
<line x1="565.5" y1="278.50" x2="565.5" y2="272.70"/>
<line x1="565.5" y1="60.50" x2="565.5" y2="66.30"/>
<line x1="643.5" y1="278.50" x2="643.5" y2="272.70"/>
<line x1="643.5" y1="60.50" x2="643.5" y2="66.30"/>
<line x1="100.50" y1="235.5" x2="106.30" y2="235.5"/>
<line x1="720.50" y1="235.5" x2="714.70" y2="235.5"/>
<line x1="100.50" y1="191.5" x2="106.30" y2="191.5"/>
<line x1="720.50" y1="191.5" x2="714.70" y2="191.5"/>
<line x1="100.50" y1="147.5" x2="106.30" y2="147.5"/>
<line x1="720.50" y1="147.5" x2="714.70" y2="147.5"/>
<line x1="100.50" y1="104.5" x2="106.30" y2="104.5"/>
<line x1="720.50" y1="104.5" x2="714.70" y2="104.5"/>
<line x1="178.5" y1="540.50" x2="178.5" y2="534.70"/>
<line x1="178.5" y1="322.50" x2="178.5" y2="328.30"/>
<line x1="255.5" y1="540.50" x2="255.5" y2="534.70"/>
<line x1="255.5" y1="322.50" x2="255.5" y2="328.30"/>
<line x1="333.5" y1="540.50" x2="333.5" y2="534.70"/>
<line x1="333.5" y1="322.50" x2="333.5" y2="328.30"/>
<line x1="410.5" y1="540.50" x2="410.5" y2="534.70"/>
<line x1="410.5" y1="322.50" x2="410.5" y2="328.30"/>
<line x1="488.5" y1="540.50" x2="488.5" y2="534.70"/>
<line x1="488.5" y1="322.50" x2="488.5" y2="328.30"/>
<line x1="565.5" y1="540.50" x2="565.5" y2="534.70"/>
<line x1="565.5" y1="322.50" x2="565.5" y2="328.30"/>
<line x1="643.5" y1="540.50" x2="643.5" y2="534.70"/>
<line x1="643.5" y1="322.50" x2="643.5" y2="328.30"/>
<line x1="100.50" y1="496.5" x2="106.30" y2="496.5"/>
<line x1="720.50" y1="496.5" x2="714.70" y2="496.5"/>
<line x1="100.50" y1="453.5" x2="106.30" y2="453.5"/>
<line x1="720.50" y1="453.5" x2="714.70" y2="453.5"/>
<line x1="100.50" y1="409.5" x2="106.30" y2="409.5"/>
<line x1="720.50" y1="409.5" x2="714.70" y2="409.5"/>
<line x1="100.50" y1="365.5" x2="106.30" y2="365.5"/>
<line x1="720.50" y1="365.5" x2="714.70" y2="365.5"/>
</g>
<rect class="sp" x="100.50" y="60.50" width="620.00" height="218.00"/>
<rect class="sp" x="100.50" y="322.50" width="620.00" height="218.00"/>
<rect class="lg" x="588.60" y="66.60" width="125.80" height="33.50"/>
<line x1="594.8" x2="612.3" y1="74.50" y2="74.50" stroke="#ff0000" stroke-width="1.45"/>
<line x1="594.8" x2="612.3" y1="90.50" y2="90.50" stroke="#008000" stroke-width="1.45"/>
<rect class="lg" x="587.60" y="327.60" width="126.80" height="34.80"/>
<line x1="594.8" x2="612.3" y1="336.50" y2="336.50" stroke="#ff0000" stroke-width="1.45"/>
<line x1="594.8" x2="612.3" y1="351.50" y2="351.50" stroke="#008000" stroke-width="1.45"/>
<g opacity="0.999">
<text y="53.0" font-size="20.30"><tspan x="163.29" textLength="38.23" lengthAdjust="spacingAndGlyphs">gl8,</tspan> <tspan x="207.10" textLength="103.94" lengthAdjust="spacingAndGlyphs">ID:147885</tspan> <tspan x="318.15" textLength="128.36" lengthAdjust="spacingAndGlyphs">Uncalibrated</tspan> <tspan x="453.27" textLength="102.36" lengthAdjust="spacingAndGlyphs">On-source</tspan> <tspan x="562.13" textLength="95.06" lengthAdjust="spacingAndGlyphs">spectrum</tspan></text>
<text x="99.40" y="294.70" font-size="17.00" text-anchor="middle" textLength="40.60" lengthAdjust="spacingAndGlyphs">1414</text>
<text x="176.90" y="294.70" font-size="17.00" text-anchor="middle" textLength="40.60" lengthAdjust="spacingAndGlyphs">1416</text>
<text x="254.40" y="294.70" font-size="17.00" text-anchor="middle" textLength="40.60" lengthAdjust="spacingAndGlyphs">1418</text>
<text x="331.90" y="294.70" font-size="17.00" text-anchor="middle" textLength="40.60" lengthAdjust="spacingAndGlyphs">1420</text>
<text x="409.40" y="294.70" font-size="17.00" text-anchor="middle" textLength="40.60" lengthAdjust="spacingAndGlyphs">1422</text>
<text x="486.90" y="294.70" font-size="17.00" text-anchor="middle" textLength="40.60" lengthAdjust="spacingAndGlyphs">1424</text>
<text x="565.20" y="294.70" font-size="17.00" text-anchor="middle" textLength="40.60" lengthAdjust="spacingAndGlyphs">1426</text>
<text x="641.90" y="294.70" font-size="17.00" text-anchor="middle" textLength="40.60" lengthAdjust="spacingAndGlyphs">1428</text>
<text x="720.30" y="294.70" font-size="17.00" text-anchor="middle" textLength="40.60" lengthAdjust="spacingAndGlyphs">1430</text>
<text x="99.40" y="556.50" font-size="17.00" text-anchor="middle" textLength="40.60" lengthAdjust="spacingAndGlyphs">1398</text>
<text x="176.90" y="556.50" font-size="17.00" text-anchor="middle" textLength="40.60" lengthAdjust="spacingAndGlyphs">1400</text>
<text x="254.40" y="556.50" font-size="17.00" text-anchor="middle" textLength="40.60" lengthAdjust="spacingAndGlyphs">1402</text>
<text x="331.90" y="556.50" font-size="17.00" text-anchor="middle" textLength="40.60" lengthAdjust="spacingAndGlyphs">1404</text>
<text x="409.40" y="556.50" font-size="17.00" text-anchor="middle" textLength="40.60" lengthAdjust="spacingAndGlyphs">1406</text>
<text x="486.90" y="556.50" font-size="17.00" text-anchor="middle" textLength="40.60" lengthAdjust="spacingAndGlyphs">1408</text>
<text x="565.20" y="556.50" font-size="17.00" text-anchor="middle" textLength="40.60" lengthAdjust="spacingAndGlyphs">1410</text>
<text x="643.10" y="556.50" font-size="17.00" text-anchor="middle" textLength="40.60" lengthAdjust="spacingAndGlyphs">1412</text>
<text x="720.30" y="556.50" font-size="17.00" text-anchor="middle" textLength="40.60" lengthAdjust="spacingAndGlyphs">1414</text>
<text x="95.10" y="283.88" font-size="17.00" text-anchor="end" textLength="10.30" lengthAdjust="spacingAndGlyphs">0</text>
<text x="93.50" y="239.74" font-size="17.00" text-anchor="end" textLength="30.10" lengthAdjust="spacingAndGlyphs">200</text>
<text x="94.60" y="196.31" font-size="17.00" text-anchor="end" textLength="30.10" lengthAdjust="spacingAndGlyphs">400</text>
<text x="93.40" y="153.07" font-size="17.00" text-anchor="end" textLength="30.10" lengthAdjust="spacingAndGlyphs">600</text>
<text x="93.50" y="108.84" font-size="17.00" text-anchor="end" textLength="30.10" lengthAdjust="spacingAndGlyphs">800</text>
<text x="94.20" y="65.80" font-size="17.00" text-anchor="end" textLength="40.80" lengthAdjust="spacingAndGlyphs">1000</text>
<text x="95.20" y="546.20" font-size="17.00" text-anchor="end" textLength="10.30" lengthAdjust="spacingAndGlyphs">0</text>
<text x="94.70" y="502.36" font-size="17.00" text-anchor="end" textLength="30.10" lengthAdjust="spacingAndGlyphs">100</text>
<text x="93.50" y="457.83" font-size="17.00" text-anchor="end" textLength="30.10" lengthAdjust="spacingAndGlyphs">200</text>
<text x="94.60" y="415.39" font-size="17.00" text-anchor="end" textLength="30.10" lengthAdjust="spacingAndGlyphs">300</text>
<text x="94.70" y="370.66" font-size="17.00" text-anchor="end" textLength="30.10" lengthAdjust="spacingAndGlyphs">400</text>
<text x="93.60" y="327.22" font-size="17.00" text-anchor="end" textLength="30.10" lengthAdjust="spacingAndGlyphs">500</text>
<text x="410.00" y="576.20" font-size="17.00" text-anchor="middle" textLength="140.10" lengthAdjust="spacingAndGlyphs">Frequency (MHz)</text>
<g transform="translate(42.85,168.8) rotate(-90)"><text x="0.00" y="0.00" font-size="17.00" text-anchor="middle" textLength="196.20" lengthAdjust="spacingAndGlyphs">Uncalibrated amplitude</text></g>
<text y="78.00" font-size="11.00"><tspan x="623.20" textLength="22.20" lengthAdjust="spacingAndGlyphs">XX1</tspan> <tspan x="648.96" textLength="61.76" lengthAdjust="spacingAndGlyphs">Tsys316.22</tspan></text>
<text y="92.90" font-size="11.00"><tspan x="622.75" textLength="21.41" lengthAdjust="spacingAndGlyphs">YY1</tspan> <tspan x="646.60" textLength="55.37" lengthAdjust="spacingAndGlyphs">Tsys50.75</tspan></text>
<text y="338.80" font-size="11.00"><tspan x="621.95" textLength="22.24" lengthAdjust="spacingAndGlyphs">XX2</tspan> <tspan x="648.01" textLength="61.70" lengthAdjust="spacingAndGlyphs">Tsys353.60</tspan></text>
<text y="354.40" font-size="11.00"><tspan x="621.85" textLength="21.39" lengthAdjust="spacingAndGlyphs">YY2</tspan> <tspan x="646.41" textLength="54.33" lengthAdjust="spacingAndGlyphs">Tsys59.05</tspan></text>
</g>
</svg>
</body></html>
